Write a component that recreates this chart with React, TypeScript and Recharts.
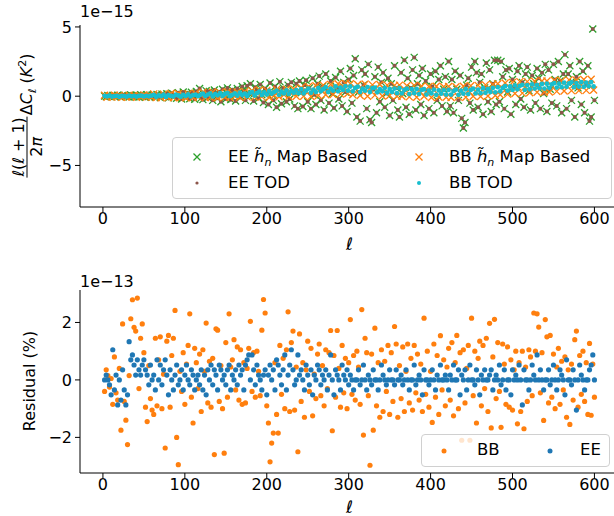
import React from "react";
import { ScatterChart, Scatter, XAxis, YAxis } from "recharts";

// every 3rd multipole (BB bands of the upper panel)
const ellCoarse = [
  2, 5, 8, 11, 14, 17, 20, 23, 26, 29, 32, 35, 38, 41, 44, 47, 50, 53, 56, 59,
  62, 65, 68, 71, 74, 77, 80, 83, 86, 89, 92, 95, 98, 101, 104, 107, 110, 113, 116, 119,
  122, 125, 128, 131, 134, 137, 140, 143, 146, 149, 152, 155, 158, 161, 164, 167, 170, 173, 176, 179,
  182, 185, 188, 191, 194, 197, 200, 203, 206, 209, 212, 215, 218, 221, 224, 227, 230, 233, 236, 239,
  242, 245, 248, 251, 254, 257, 260, 263, 266, 269, 272, 275, 278, 281, 284, 287, 290, 293, 296, 299,
  302, 305, 308, 311, 314, 317, 320, 323, 326, 329, 332, 335, 338, 341, 344, 347, 350, 353, 356, 359,
  362, 365, 368, 371, 374, 377, 380, 383, 386, 389, 392, 395, 398, 401, 404, 407, 410, 413, 416, 419,
  422, 425, 428, 431, 434, 437, 440, 443, 446, 449, 452, 455, 458, 461, 464, 467, 470, 473, 476, 479,
  482, 485, 488, 491, 494, 497, 500, 503, 506, 509, 512, 515, 518, 521, 524, 527, 530, 533, 536, 539,
  542, 545, 548, 551, 554, 557, 560, 563, 566, 569, 572, 575, 578, 581, 584, 587, 590, 593, 596, 599,
];

// every 2nd multipole (EE of the upper panel, both series of the residual panel)
const ellFine = [
  2, 4, 6, 8, 10, 12, 14, 16, 18, 20, 22, 24, 26, 28, 30, 32, 34, 36, 38, 40, 42, 44, 46, 48, 50, 52, 54, 56, 58, 60,
  62, 64, 66, 68, 70, 72, 74, 76, 78, 80, 82, 84, 86, 88, 90, 92, 94, 96, 98, 100, 102, 104, 106, 108, 110, 112, 114, 116, 118, 120,
  122, 124, 126, 128, 130, 132, 134, 136, 138, 140, 142, 144, 146, 148, 150, 152, 154, 156, 158, 160, 162, 164, 166, 168, 170, 172, 174, 176, 178, 180,
  182, 184, 186, 188, 190, 192, 194, 196, 198, 200, 202, 204, 206, 208, 210, 212, 214, 216, 218, 220, 222, 224, 226, 228, 230, 232, 234, 236, 238, 240,
  242, 244, 246, 248, 250, 252, 254, 256, 258, 260, 262, 264, 266, 268, 270, 272, 274, 276, 278, 280, 282, 284, 286, 288, 290, 292, 294, 296, 298, 300,
  302, 304, 306, 308, 310, 312, 314, 316, 318, 320, 322, 324, 326, 328, 330, 332, 334, 336, 338, 340, 342, 344, 346, 348, 350, 352, 354, 356, 358, 360,
  362, 364, 366, 368, 370, 372, 374, 376, 378, 380, 382, 384, 386, 388, 390, 392, 394, 396, 398, 400, 402, 404, 406, 408, 410, 412, 414, 416, 418, 420,
  422, 424, 426, 428, 430, 432, 434, 436, 438, 440, 442, 444, 446, 448, 450, 452, 454, 456, 458, 460, 462, 464, 466, 468, 470, 472, 474, 476, 478, 480,
  482, 484, 486, 488, 490, 492, 494, 496, 498, 500, 502, 504, 506, 508, 510, 512, 514, 516, 518, 520, 522, 524, 526, 528, 530, 532, 534, 536, 538, 540,
  542, 544, 546, 548, 550, 552, 554, 556, 558, 560, 562, 564, 566, 568, 570, 572, 574, 576, 578, 580, 582, 584, 586, 588, 590, 592, 594, 596, 598, 600,
];

// upper panel, units of 1e-15 K^2 ; EE TOD dots sit on the EE map-based crosses
const eeMapBased = [
  0.02, -0.03, 0.05, 0.01, -0.04, 0.06, 0.0, -0.02, 0.07, 0.03, -0.05, 0.04, 0.08, -0.03, 0.02, -0.06, 0.09, 0.01, -0.04, 0.06, 0.03, -0.07, 0.1, -0.02, 0.05, -0.08, 0.11, 0.0, -0.05, 0.08,
  0.05, -0.08, 0.12, 0.03, -0.1, 0.15, 0.06, -0.05, 0.18, -0.12, 0.1, 0.22, -0.06, 0.08, -0.15, 0.25, 0.04, -0.2, 0.3, 0.12, -0.1, 0.2, -0.18, 0.28, 0.05, -0.22, 0.35, 0.15, 0.55, -0.12,
  -0.25, 0.12, 0.4, -0.1, 0.35, 0.05, -0.3, 0.45, 0.2, -0.15, 0.3, -0.4, 0.5, 0.1, -0.2, 0.6, 0.35, -0.25, 0.45, 0.15, -0.35, 0.55, 0.25, -0.1, 0.7, 0.4, -0.3, 0.75, 0.2, 0.9,
  0.2, -0.35, 0.65, 0.4, -0.15, 0.85, 0.1, -0.45, 0.55, 0.3, -0.6, 0.95, 0.15, -0.3, 0.7, -0.8, 0.45, 1.05, -0.55, 0.6, 0.25, -0.4, 0.8, -0.2, 1.0, 0.35, -0.7, 0.9, -0.9, 1.1,
  0.25, -0.75, 0.8, 1.15, -0.4, 0.6, -0.9, 1.3, 0.1, -0.6, 0.9, 1.45, -0.3, 0.7, -1.0, 1.6, 0.4, -0.5, 1.1, 0.2, -0.85, 1.35, 0.55, -0.2, 1.8, -0.7, 1.0, 0.3, -1.1, 1.2,
  2.0, -0.5, 1.5, 2.7, -1.5, 0.3, -1.8, 1.9, 0.8, 1.6, -0.9, 2.3, -1.7, -1.9, 0.5, 1.4, -1.2, 2.1, -0.4, 1.0, 1.7, -0.8, 0.2, 1.3, -1.4, 0.9, -0.3, 2.2, 0.6, -1.0,
  -1.5, 1.7, 0.2, 2.6, -0.8, 1.3, -1.3, 0.6, 1.9, 2.8, -1.0, 0.9, 1.5, -0.6, 2.0, -1.4, 1.1, 0.4, -0.9, 1.6, 0.7, -1.2, 1.8, -0.3, 1.2, 2.2, -0.7, 0.5, 1.4, -1.1,
  2.5, -0.7, 1.2, -1.2, 1.8, 0.5, -0.3, 1.5, -1.6, -2.3, -1.9, 0.8, 1.3, -0.5, 2.1, -1.0, 2.5, 1.7, -0.8, 1.0, 1.6, -1.3, 0.6, 2.4, -0.4, 1.9, -1.1, 0.9, 2.6, -0.6,
  2.6, -0.4, 2.5, 1.4, -0.9, 1.9, 0.3, 2.0, -1.3, 1.2, 0.6, -0.6, 1.8, 2.2, -0.2, 1.0, -0.8, 1.6, 2.1, 0.4, -1.0, 1.5, 0.9, -0.5, 2.0, 1.3, -0.9, 1.7, 0.2, 2.3,
  -1.1, 1.9, 0.5, -0.5, 2.3, 1.2, -0.7, 2.5, 1.1, -1.2, 1.6, 3.0, -0.9, 1.6, 2.2, -0.3, 1.0, -1.5, 1.4, 0.6, 2.5, -0.6, 1.8, -1.2, 0.8, 2.2, -1.8, -1.5, 4.85, -0.3,
];

const bbMapBased = [
  0.07, -0.08, 0.03, -0.06, 0.08, -0.04, 0.06, -0.08, 0.02, -0.07, 0.08, -0.05, 0.06, -0.08, 0.04, -0.03, 0.09, -0.07, 0.05, -0.06,
  0.17, -0.1, 0.05, -0.12, 0.15, 0.0, -0.08, 0.19, -0.11, 0.08, 0.2, -0.09, 0.02, -0.12, 0.18, 0.06, -0.1, 0.21, -0.05, 0.12,
  0.28, -0.1, 0.15, -0.08, 0.3, 0.02, -0.12, 0.25, 0.08, -0.06, 0.32, -0.1, 0.2, 0.0, 0.3, -0.08, 0.12, 0.33, -0.05, 0.22,
  0.4, -0.07, 0.22, 0.45, -0.05, 0.15, 0.42, -0.1, 0.3, 0.05, 0.48, -0.04, 0.35, 0.1, 0.5, -0.02, 0.25, 0.52, 0.0, 0.4,
  0.62, 0.0, 0.4, 0.7, -0.02, 0.3, 0.75, 0.05, 0.55, 0.8, 0.1, 0.45, 0.85, 0.12, 0.6, 0.9, 0.15, 0.7, 0.92, 0.2,
  0.9, 0.1, 0.6, 0.85, 0.05, 0.45, 0.88, 0.0, 0.55, 0.82, 0.08, 0.4, 0.85, 0.02, 0.5, 0.8, 0.05, 0.35, 0.78, 0.0,
  0.8, 0.0, 0.5, 0.75, -0.05, 0.35, 0.78, -0.08, 0.4, 0.72, 0.0, 0.3, 0.7, -0.1, 0.45, 0.72, -0.06, 0.3, 0.68, -0.08,
  0.7, -0.1, 0.35, 0.68, -0.05, 0.28, 0.72, -0.08, 0.4, 0.75, 0.0, 0.35, 0.78, -0.02, 0.45, 0.82, 0.02, 0.5, 0.85, 0.05,
  0.9, 0.1, 0.55, 0.95, 0.15, 0.6, 1.0, 0.2, 0.7, 1.05, 0.22, 0.65, 1.05, 0.25, 0.7, 1.08, 0.28, 0.75, 1.1, 0.3,
  1.1, 0.3, 0.75, 1.15, 0.35, 0.8, 1.12, 0.38, 0.78, 1.18, 0.4, 0.85, 1.15, 0.4, 0.82, 1.2, 0.42, 0.88, 1.22, 0.45,
];

const bbTod = [
  0.03, -0.02, 0.04, -0.03, 0.01, 0.03, -0.04, 0.02, 0.0, -0.03, 0.04, -0.01, 0.03, -0.03, 0.02, 0.04, -0.02, 0.03, -0.01, 0.04,
  0.1, -0.04, 0.06, 0.0, 0.12, -0.05, 0.08, 0.02, -0.03, 0.11, 0.05, -0.04, 0.09, 0.01, 0.13, -0.02, 0.07, 0.12, 0.0, 0.1,
  0.18, 0.0, 0.12, 0.2, -0.02, 0.15, 0.06, 0.22, 0.02, 0.16, 0.24, 0.0, 0.1, 0.2, 0.04, 0.25, 0.08, 0.18, 0.02, 0.22,
  0.3, 0.05, 0.22, 0.35, 0.08, 0.28, 0.12, 0.38, 0.18, 0.3, 0.4, 0.1, 0.32, 0.2, 0.42, 0.15, 0.36, 0.25, 0.44, 0.22,
  0.5, 0.2, 0.4, 0.55, 0.25, 0.48, 0.3, 0.6, 0.35, 0.52, 0.65, 0.3, 0.55, 0.4, 0.7, 0.35, 0.62, 0.45, 0.72, 0.4,
  0.7, 0.35, 0.6, 0.68, 0.3, 0.55, 0.4, 0.66, 0.3, 0.58, 0.62, 0.28, 0.5, 0.35, 0.6, 0.25, 0.52, 0.3, 0.55, 0.22,
  0.58, 0.2, 0.45, 0.55, 0.15, 0.5, 0.22, 0.52, 0.15, 0.45, 0.5, 0.12, 0.4, 0.2, 0.48, 0.1, 0.42, 0.18, 0.45, 0.12,
  0.45, 0.12, 0.38, 0.48, 0.1, 0.4, 0.18, 0.5, 0.15, 0.45, 0.55, 0.2, 0.48, 0.22, 0.58, 0.25, 0.52, 0.3, 0.6, 0.28,
  0.65, 0.35, 0.6, 0.72, 0.4, 0.7, 0.45, 0.78, 0.5, 0.75, 0.82, 0.45, 0.8, 0.5, 0.85, 0.55, 0.82, 0.58, 0.88, 0.55,
  0.9, 0.6, 0.85, 0.95, 0.62, 0.9, 0.65, 0.98, 0.68, 0.92, 1.0, 0.65, 0.95, 0.7, 1.02, 0.68, 0.98, 0.72, 1.02, 0.7,
];

// residual panel, units of 1e-13 %
const bbResidual = [
  -0.4, 0.35, 0.15, -0.25, 0.05, -0.85, 0.8, -0.45, -0.7, 0.4, -1.75, 1.95, -0.75, -1.4, -2.25, 0.15, 2.13, 2.79, 1.83, 1.7, 2.85, -0.3, 1.45, 1.95, 0.95, -0.95, -1.45, 0.5, -0.65, -1.05,
  -1.2, 1.45, -0.9, 0.7, 1.5, -1.0, 0.2, -2.37, 1.35, 1.55, -0.95, 0.85, 1.45, 2.42, -2.0, -2.95, 0.3, -0.4, 0.95, -0.85, 0.55, 1.2, 2.3, -0.6, -1.5, 1.1, 0.6, -0.3, 0.9, -1.1,
  1.05, 0.3, 1.98, -0.8, 0.65, -0.95, 0.75, -2.6, 1.78, 1.73, -0.75, 0.5, -1.0, -2.55, 1.3, -0.6, 2.3, 0.45, 0.7, 1.4, -0.35, 1.15, -0.7, 1.05, -0.85, 0.6, -0.8, 0.4, 1.1, 2.04,
  -0.4, 0.95, -0.6, 1.0, 0.3, -0.55, 1.73, 2.8, 2.33, -0.9, -1.5, -2.85, -2.2, -1.85, 0.6, -1.2, -1.85, 1.2, -0.5, 0.75, -1.0, 1.05, 2.37, -1.1, 1.3, 1.7, -1.05, 0.45, -2.5, 1.6,
  -0.75, 0.6, -1.3, 0.35, 1.35, -0.4, 1.1, -1.25, 0.2, -0.65, 0.9, 1.25, -0.55, 0.5, -0.9, 1.05, -0.3, 0.95, 1.72, -1.77, 0.85, -0.6, 1.72, 0.4, -0.95, 1.2, -0.45, 0.75, -1.0, 0.6,
  2.1, -0.5, 0.85, -0.7, 1.0, 0.45, -0.85, 2.45, -1.92, 1.45, 0.95, -0.55, -2.97, 0.9, -1.75, 1.8, -0.9, 0.6, -1.3, 1.05, -1.1, 0.65, -0.4, 1.2, -1.2, 0.95, -0.75, 1.86, 1.25, -1.3,
  0.5, -0.65, 1.15, -1.1, 0.3, 1.25, -0.8, 0.75, -1.05, 1.2, -0.45, 0.9, -0.7, 0.55, -1.1, 2.15, -0.5, 1.0, -0.95, 0.3, -1.48, 1.25, -0.6, 0.85, -1.2, 1.54, -0.35, 0.7, -0.9, 0.45,
  1.1, -0.7, 1.3, -1.25, 0.6, 1.55, -1.0, 0.95, -2.1, 1.05, -0.8, 0.4, 1.2, -2.1, 2.15, -0.55, 1.0, -1.5, 0.75, 1.35, -0.9, 1.2, -0.3, 1.45, -1.1, 1.97, -1.67, 0.8, 2.11, -0.65,
  1.3, -0.4, -1.65, 1.25, 0.55, -0.85, 1.15, -0.95, 0.7, -1.05, 0.35, 1.0, -1.53, 0.6, -1.1, 1.0, -1.7, 0.45, -0.75, 1.05, 0.8, -0.55, 2.33, 1.0, 2.3, 1.84, -0.45, 0.95, -1.41, 2.1,
  1.5, -0.8, 1.55, -0.6, 0.9, -1.0, 0.45, 1.1, -0.85, 0.65, -0.35, 0.8, -1.3, 0.35, -1.55, 0.55, -0.7, 1.4, 1.7, -0.95, 0.85, -0.5, 1.0, -0.75, 0.6, -1.2, 1.27, -1.23, 0.55, -0.6,
];

const eeResidual = [
  0.0, 0.17, 0.0, -0.17, -0.52, 1.05, -0.35, 0.17, -0.87, 0.0, -0.7, 0.35, -0.35, -0.87, -0.52, 1.33, 0.7, 0.87, 0.52, 0.17, 0.7, 0.35, 0.17, 0.52, 0.7, 0.35, 0.17, -0.17, 0.52, 0.0,
  0.17, -0.35, 0.7, 0.0, 0.52, -0.17, 0.35, 0.7, 0.17, -0.52, 0.35, 0.0, -0.35, 0.17, 0.52, -0.17, 0.0, 0.35, -0.35, 0.17, 0.52, 0.0, -0.17, 0.35, 0.17, -0.35, 0.0, 0.17, -0.17, 0.35,
  -0.35, 0.17, -0.52, 0.35, 0.0, 0.52, -0.17, 0.35, 0.17, -0.35, 0.52, 0.35, 0.0, 0.17, -0.17, 0.35, 0.52, -0.35, 0.17, 0.0, 0.35, -0.17, 0.52, 0.17, 0.35, -0.35, 0.52, 0.7, 0.87, 0.0,
  0.87, 0.35, -0.17, 0.52, 0.17, 0.0, -0.35, 0.17, 0.35, -0.52, 0.17, 0.52, 0.0, 0.35, -0.35, 0.7, 0.52, 0.17, -0.17, 0.35, 0.87, -0.35, 0.17, 0.52, 1.05, 0.35, -0.17, 0.0, 0.87, 0.17,
  0.35, 0.0, -0.35, 0.52, 0.17, -0.17, 0.35, -0.52, 0.17, 0.0, 0.52, 0.35, -0.17, 0.17, 0.0, 0.35, -0.35, 0.17, 0.87, 0.0, -0.52, 0.35, 0.17, 0.0, -0.35, 0.52, 0.17, 0.0, 0.35, -0.17,
  0.17, 0.0, -0.35, 0.0, 0.0, 0.35, -0.17, 0.0, 0.52, 0.0, -0.35, 0.17, 0.0, -0.17, 0.35, 0.0, 0.0, -0.35, 0.0, 0.52, 0.17, 0.0, -0.17, 0.0, 0.35, 0.0, 0.0, -0.17, 0.35, 0.0,
  0.0, 0.17, -0.17, 0.0, 0.35, 0.0, -0.35, 0.0, 0.0, 0.52, -0.17, 0.0, 0.17, 0.0, -0.52, 0.35, 0.0, 0.0, -0.17, 0.0, 0.35, 0.0, -0.35, 0.17, 0.0, 0.52, 0.0, 0.0, 0.17, 0.0,
  -0.35, 0.17, 0.0, 0.52, 0.0, 0.0, 0.35, -0.52, 0.17, 0.0, 0.35, -0.35, 0.0, 0.52, 0.0, 0.0, -0.17, 0.35, 0.0, -0.52, 0.17, 0.0, 0.35, 0.0, 0.0, 0.17, 0.35, -0.35, 0.0, 0.17,
  0.0, 0.52, -0.17, 0.0, 0.35, -0.35, 0.0, 0.0, -0.52, 0.35, 0.0, 0.17, 0.0, 0.52, 0.0, -0.87, 0.35, 0.0, 0.0, -0.35, 0.0, 0.52, 0.17, 0.0, 0.87, 0.0, 0.35, 0.0, -0.35, 0.0,
  0.0, 0.35, -0.17, 0.0, 0.52, 0.0, -0.35, 0.0, 0.35, 0.17, 0.0, -0.52, 0.7, 0.0, 0.0, -0.17, 0.35, 0.0, -1.05, 0.0, 0.52, 0.17, 0.0, -0.35, 0.0, 0.0, 0.35, 0.52, 0.87, 0.0,
];

const xTicks = [0, 100, 200, 300, 400, 500, 600];
const topYTicks = [-5, 0, 5];
const bottomYTicks = [-2, 0, 2];

const FONT = "'DejaVu Sans', sans-serif";
const GREEN = "#2ca02c";
const BROWN = "#8c564b";
const ORANGE = "#ff7f0e";
const CYAN = "#17becf";
const BLUE = "#1f77b4";

const X_DOMAIN: [number, number] = [-28, 630];
const TOP_DOMAIN: [number, number] = [-8, 5.14];
const BOTTOM_DOMAIN: [number, number] = [-3.24, 3.13];

const pts = (xs: number[], ys: number[]) => xs.map((l, i) => ({ l, v: ys[i] }));

const fmt = (v: number) => (v < 0 ? `\u2212${Math.abs(v)}` : `${v}`);
const tickStyle = { fill: "#000", fontSize: 16, fontFamily: FONT };

function crossShape(color: string) {
  return (p: any) => {
    const { cx, cy } = p;
    if (cx == null || cy == null) return <g />;
    const s = 3.5;
    return (
      <path
        d={`M${cx - s},${cy - s}L${cx + s},${cy + s}M${cx - s},${cy + s}L${cx + s},${cy - s}`}
        stroke={color}
        strokeWidth={1.3}
        fill="none"
      />
    );
  };
}

function dotShape(color: string, r: number) {
  return (p: any) => (p.cx == null ? <g /> : <circle cx={p.cx} cy={p.cy} r={r} fill={color} />);
}

function LegendCross({ color, left, top }: { color: string; left: number; top: number }) {
  return (
    <svg style={{ position: "absolute", left: left - 5, top: top - 5 }} width={10} height={10}>
      <path d="M1.5,1.5L8.5,8.5M1.5,8.5L8.5,1.5" stroke={color} strokeWidth={1.3} fill="none" />
    </svg>
  );
}

function LegendDot({ color, r, left, top }: { color: string; r: number; left: number; top: number }) {
  return (
    <svg style={{ position: "absolute", left: left - 5, top: top - 5 }} width={10} height={10}>
      <circle cx={5} cy={5} r={r} fill={color} />
    </svg>
  );
}

export default function App() {
  const eeMapData = pts(ellFine, eeMapBased);
  const bbMapData = pts(ellCoarse, bbMapBased);
  const bbTodData = pts(ellCoarse, bbTod);
  const bbResData = pts(ellFine, bbResidual);
  const eeResData = pts(ellFine, eeResidual);

  const ellLabel = (offset: number) => ({
    value: "\u2113",
    position: "insideBottom" as const,
    offset,
    fill: "#000",
    fontSize: 17,
    fontStyle: "italic",
    fontFamily: FONT,
  });

  return (
    <div
      style={{
        position: "absolute",
        left: 0,
        top: 0,
        width: 614,
        height: 516,
        overflow: "hidden",
        background: "#fff",
        fontFamily: FONT,
        color: "#000",
      }}
    >
      {/* upper panel */}
      <div style={{ position: "absolute", left: 0, top: 0 }}>
        <ScatterChart width={625} height={258} margin={{ top: 25, right: 6, bottom: 0, left: 0 }}>
          <XAxis
            type="number"
            dataKey="l"
            domain={X_DOMAIN}
            ticks={xTicks}
            allowDataOverflow
            tickSize={5}
            tickMargin={1}
            tick={tickStyle}
            stroke="#000"
            height={51}
            label={ellLabel(8)}
          />
          <XAxis xAxisId="top" orientation="top" type="number" domain={X_DOMAIN} tick={false} tickLine={false} height={0} stroke="#000" />
          <YAxis
            type="number"
            dataKey="v"
            domain={TOP_DOMAIN}
            ticks={topYTicks}
            allowDataOverflow
            tickSize={5}
            tickMargin={3}
            width={80}
            tickFormatter={fmt}
            tick={tickStyle}
            stroke="#000"
          />
          <YAxis yAxisId="right" orientation="right" type="number" domain={TOP_DOMAIN} tick={false} tickLine={false} width={0} stroke="#000" />
          <Scatter data={eeMapData} shape={crossShape(GREEN)} isAnimationActive={false} />
          <Scatter data={eeMapData} shape={dotShape(BROWN, 2)} isAnimationActive={false} />
          <Scatter data={bbMapData} shape={crossShape(ORANGE)} isAnimationActive={false} />
          <Scatter data={bbTodData} shape={dotShape(CYAN, 2.4)} isAnimationActive={false} />
        </ScatterChart>
      </div>

      {/* lower panel */}
      <div style={{ position: "absolute", left: 0, top: 258 }}>
        <ScatterChart width={625} height={258} margin={{ top: 32, right: 6, bottom: 0, left: 0 }}>
          <XAxis
            type="number"
            dataKey="l"
            domain={X_DOMAIN}
            ticks={xTicks}
            allowDataOverflow
            tickSize={5}
            tickMargin={1}
            tick={tickStyle}
            stroke="#000"
            height={43}
            label={ellLabel(3)}
          />
          <XAxis xAxisId="top" orientation="top" type="number" domain={X_DOMAIN} tick={false} tickLine={false} height={0} stroke="#000" />
          <YAxis
            type="number"
            dataKey="v"
            domain={BOTTOM_DOMAIN}
            ticks={bottomYTicks}
            allowDataOverflow
            tickSize={5}
            tickMargin={3}
            width={80}
            tickFormatter={fmt}
            tick={tickStyle}
            stroke="#000"
          />
          <YAxis yAxisId="right" orientation="right" type="number" domain={BOTTOM_DOMAIN} tick={false} tickLine={false} width={0} stroke="#000" />
          <Scatter data={bbResData} shape={dotShape(ORANGE, 2.6)} isAnimationActive={false} />
          <Scatter data={eeResData} shape={dotShape(BLUE, 2.6)} isAnimationActive={false} />
        </ScatterChart>
      </div>

      {/* offset texts */}
      <div style={{ position: "absolute", left: 80, top: 2, fontSize: 16, lineHeight: "19px" }}>1e{"\u2212"}15</div>
      <div style={{ position: "absolute", left: 80, top: 272, fontSize: 16, lineHeight: "19px" }}>1e{"\u2212"}13</div>

      {/* y labels */}
      <div
        style={{
          position: "absolute",
          left: 27,
          top: 115,
          transform: "translate(-50%, -50%) rotate(-90deg)",
          whiteSpace: "nowrap",
          display: "flex",
          alignItems: "center",
          fontSize: 16,
        }}
      >
        <span style={{ display: "inline-flex", flexDirection: "column", alignItems: "center", lineHeight: "17px" }}>
          <span>
            <i>{"\u2113"}</i>(<i>{"\u2113"}</i> + 1)
          </span>
          <span style={{ borderTop: "1.3px solid #000", padding: "0 1px", width: "100%", textAlign: "center" }}>
            2<i>{"\u03c0"}</i>
          </span>
        </span>
        <span style={{ marginLeft: 2 }}>
          {"\u0394"}
          <i>C</i>
          <sub style={{ fontSize: 11 }}>
            <i>{"\u2113"}</i>
          </sub>{" "}
          (<i>K</i>
          <sup style={{ fontSize: 11 }}>2</sup>)
        </span>
      </div>
      <div
        style={{
          position: "absolute",
          left: 29,
          top: 381,
          transform: "translate(-50%, -50%) rotate(-90deg)",
          whiteSpace: "nowrap",
          fontSize: 16,
        }}
      >
        Residual (%)
      </div>

      {/* legend, upper */}
      <div
        style={{
          position: "absolute",
          left: 172,
          top: 137,
          width: 438,
          height: 60,
          background: "rgba(255,255,255,0.8)",
          border: "1px solid #d0d0d0",
          borderRadius: 4,
          fontSize: 16.5,
          lineHeight: "20px",
        }}
      >
        <LegendCross color={GREEN} left={24} top={19} />
        <div style={{ position: "absolute", left: 55, top: 9, whiteSpace: "nowrap" }}>
          EE <i>h{"\u0303"}</i>
          <sub style={{ fontSize: 11, lineHeight: 0 }}>
            <i>n</i>
          </sub>{" "}
          Map Based
        </div>
        <LegendDot color={BROWN} r={1.6} left={24} top={45} />
        <div style={{ position: "absolute", left: 55, top: 35, whiteSpace: "nowrap" }}>EE TOD</div>
        <LegendCross color={ORANGE} left={246} top={19} />
        <div style={{ position: "absolute", left: 276, top: 9, whiteSpace: "nowrap" }}>
          BB <i>h{"\u0303"}</i>
          <sub style={{ fontSize: 11, lineHeight: 0 }}>
            <i>n</i>
          </sub>{" "}
          Map Based
        </div>
        <LegendDot color={CYAN} r={2} left={246} top={45} />
        <div style={{ position: "absolute", left: 276, top: 35, whiteSpace: "nowrap" }}>BB TOD</div>
      </div>

      {/* legend, lower */}
      <div
        style={{
          position: "absolute",
          left: 421,
          top: 434,
          width: 187,
          height: 31,
          background: "rgba(255,255,255,0.8)",
          border: "1px solid #d0d0d0",
          borderRadius: 4,
          fontSize: 16.5,
          lineHeight: "20px",
        }}
      >
        <LegendDot color={ORANGE} r={2.5} left={22} top={16} />
        <div style={{ position: "absolute", left: 55, top: 5 }}>BB</div>
        <LegendDot color={BLUE} r={2.5} left={128} top={16} />
        <div style={{ position: "absolute", left: 158, top: 5 }}>EE</div>
      </div>
    </div>
  );
}
